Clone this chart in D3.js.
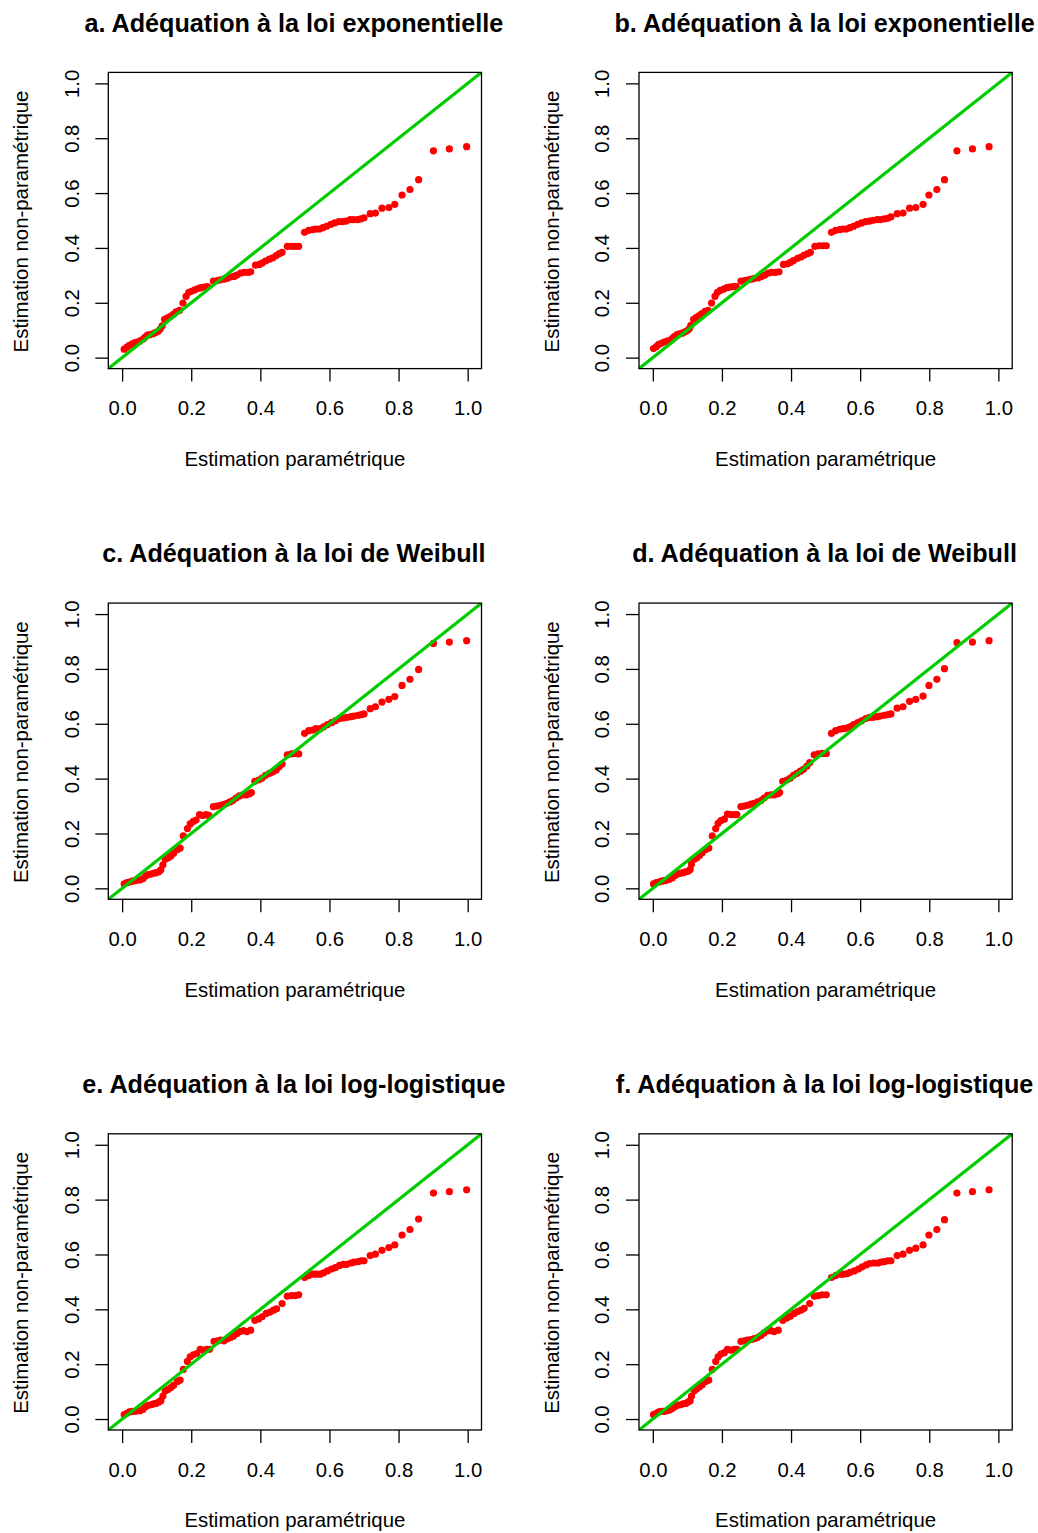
<!DOCTYPE html>
<html><head><meta charset="utf-8">
<script src="https://cdn.jsdelivr.net/npm/d3@7"></script>
<style>
body{margin:0;background:#fff}
svg{display:block}
text{font-family:"Liberation Sans",Arial,Helvetica,sans-serif;fill:#000}
</style>
</head><body>
<svg id="chart" width="1038" height="1533"></svg>
<script>
const titles = [
  "a. Adéquation à la loi exponentielle",
  "b. Adéquation à la loi exponentielle",
  "c. Adéquation à la loi de Weibull",
  "d. Adéquation à la loi de Weibull",
  "e. Adéquation à la loi log-logistique",
  "f. Adéquation à la loi log-logistique"
];
const xLabel = "Estimation paramétrique";
const yLabel = "Estimation non-paramétrique";
const tickValues = [0, 0.2, 0.4, 0.6, 0.8, 1.0];
const tickLabels = ["0.0", "0.2", "0.4", "0.6", "0.8", "1.0"];

const xa = [0.006,0.014,0.021,0.029,0.037,0.044,0.052,0.060,0.066,0.073,
0.081,0.089,0.096,0.104,0.110,0.116,0.123,0.131,0.139,0.147,
0.156,0.166,0.176,0.185,0.193,0.201,0.210,0.220,0.228,0.237,
0.247,0.264,0.276,0.285,0.295,0.305,0.314,0.324,0.332,0.343,
0.353,0.365,0.372,0.386,0.397,0.405,0.415,0.426,0.436,0.446,
0.455,0.463,0.478,0.490,0.501,0.511,0.528,0.540,0.552,0.561,
0.571,0.581,0.592,0.604,0.615,0.627,0.638,0.648,0.660,0.669,
0.681,0.691,0.700,0.718,0.733,0.752,0.772,0.789,0.810,0.833,
0.858,0.901,0.947,0.997];
const ya = [0.031,0.038,0.045,0.050,0.055,0.057,0.061,0.067,0.074,0.082,
0.084,0.087,0.091,0.096,0.104,0.116,0.140,0.145,0.150,0.157,
0.167,0.172,0.199,0.223,0.238,0.242,0.247,0.252,0.255,0.257,
0.259,0.279,0.281,0.284,0.286,0.289,0.294,0.296,0.301,0.308,
0.311,0.311,0.313,0.337,0.340,0.345,0.352,0.359,0.364,0.372,
0.379,0.384,0.406,0.406,0.406,0.406,0.457,0.464,0.467,0.469,
0.469,0.474,0.479,0.486,0.491,0.496,0.496,0.498,0.503,0.503,
0.503,0.506,0.510,0.525,0.527,0.545,0.547,0.559,0.593,0.613,
0.649,0.754,0.761,0.769];

const xb = [0.002,0.010,0.017,0.025,0.033,0.041,0.048,0.056,0.062,0.070,
0.077,0.085,0.093,0.100,0.106,0.110,0.118,0.126,0.133,0.141,
0.151,0.160,0.170,0.180,0.187,0.195,0.205,0.214,0.222,0.232,
0.241,0.255,0.266,0.276,0.286,0.295,0.305,0.315,0.324,0.334,
0.344,0.355,0.365,0.378,0.390,0.398,0.407,0.419,0.429,0.438,
0.448,0.456,0.469,0.481,0.492,0.502,0.517,0.529,0.541,0.550,
0.560,0.570,0.581,0.593,0.604,0.616,0.627,0.637,0.649,0.658,
0.670,0.680,0.689,0.707,0.724,0.743,0.761,0.782,0.799,0.822,
0.844,0.880,0.925,0.973];
const yb = [0.033,0.040,0.048,0.052,0.057,0.060,0.062,0.069,0.077,0.084,
0.087,0.089,0.094,0.099,0.106,0.118,0.140,0.147,0.152,0.160,
0.169,0.172,0.199,0.223,0.238,0.245,0.250,0.255,0.257,0.259,
0.259,0.279,0.281,0.284,0.286,0.289,0.291,0.296,0.301,0.308,
0.311,0.311,0.313,0.340,0.342,0.347,0.354,0.362,0.367,0.374,
0.379,0.384,0.406,0.408,0.408,0.408,0.457,0.464,0.467,0.469,
0.469,0.474,0.479,0.486,0.491,0.496,0.498,0.501,0.503,0.503,
0.506,0.508,0.513,0.525,0.527,0.545,0.547,0.559,0.593,0.613,
0.649,0.754,0.761,0.769];

const xc = [0.006,0.014,0.021,0.029,0.037,0.044,0.052,0.060,0.068,0.075,
0.083,0.091,0.098,0.106,0.112,0.118,0.125,0.133,0.141,0.149,
0.160,0.168,0.177,0.189,0.197,0.206,0.214,0.224,0.233,0.243,
0.251,0.264,0.274,0.284,0.293,0.303,0.312,0.320,0.330,0.339,
0.349,0.359,0.368,0.374,0.384,0.395,0.405,0.415,0.426,0.436,
0.446,0.455,0.463,0.478,0.490,0.501,0.511,0.528,0.540,0.552,
0.561,0.573,0.583,0.594,0.606,0.617,0.629,0.640,0.650,0.662,
0.671,0.683,0.692,0.700,0.718,0.733,0.752,0.772,0.789,0.810,
0.833,0.858,0.901,0.947,0.997];
const yc = [0.016,0.021,0.023,0.026,0.028,0.030,0.030,0.035,0.045,0.050,
0.052,0.055,0.057,0.060,0.067,0.086,0.106,0.111,0.118,0.128,
0.142,0.147,0.191,0.218,0.235,0.244,0.249,0.269,0.266,0.269,
0.266,0.298,0.300,0.303,0.305,0.310,0.315,0.320,0.329,0.337,
0.341,0.341,0.344,0.349,0.390,0.395,0.402,0.412,0.419,0.424,
0.431,0.444,0.453,0.487,0.490,0.492,0.490,0.565,0.575,0.577,
0.582,0.582,0.589,0.597,0.604,0.611,0.619,0.621,0.623,0.626,
0.628,0.631,0.633,0.636,0.655,0.662,0.679,0.689,0.699,0.740,
0.762,0.798,0.893,0.898,0.903];

const xd = [0.002,0.010,0.017,0.025,0.033,0.041,0.048,0.056,0.064,0.071,
0.079,0.087,0.095,0.102,0.108,0.112,0.120,0.127,0.135,0.143,
0.153,0.162,0.172,0.182,0.189,0.197,0.207,0.216,0.226,0.236,
0.243,0.255,0.265,0.274,0.284,0.293,0.303,0.313,0.322,0.332,
0.342,0.351,0.361,0.367,0.376,0.388,0.398,0.407,0.417,0.427,
0.436,0.446,0.454,0.467,0.479,0.490,0.502,0.517,0.529,0.541,
0.550,0.560,0.570,0.581,0.593,0.604,0.616,0.627,0.637,0.649,
0.658,0.670,0.680,0.689,0.707,0.724,0.743,0.761,0.782,0.799,
0.822,0.844,0.880,0.925,0.973];
const yd = [0.016,0.021,0.023,0.026,0.028,0.030,0.033,0.038,0.047,0.052,
0.055,0.057,0.060,0.062,0.069,0.089,0.106,0.111,0.120,0.130,
0.142,0.147,0.191,0.218,0.237,0.247,0.252,0.271,0.269,0.269,
0.269,0.298,0.300,0.303,0.307,0.310,0.315,0.320,0.329,0.339,
0.341,0.341,0.344,0.349,0.390,0.395,0.402,0.412,0.419,0.427,
0.434,0.446,0.458,0.487,0.490,0.492,0.492,0.565,0.575,0.580,
0.582,0.584,0.589,0.597,0.604,0.611,0.619,0.623,0.623,0.626,
0.628,0.631,0.633,0.636,0.657,0.662,0.682,0.689,0.701,0.740,
0.762,0.801,0.896,0.898,0.903];

const xe = [0.006,0.014,0.021,0.029,0.037,0.044,0.052,0.060,0.068,0.075,
0.083,0.091,0.098,0.106,0.112,0.118,0.125,0.133,0.141,0.149,
0.160,0.168,0.177,0.189,0.197,0.206,0.216,0.226,0.235,0.245,
0.253,0.266,0.276,0.285,0.295,0.305,0.314,0.322,0.332,0.341,
0.351,0.361,0.372,0.384,0.395,0.405,0.417,0.428,0.438,0.447,
0.463,0.478,0.490,0.501,0.511,0.528,0.540,0.552,0.561,0.573,
0.583,0.594,0.606,0.617,0.629,0.640,0.650,0.662,0.671,0.683,
0.692,0.700,0.718,0.733,0.752,0.772,0.789,0.810,0.833,0.858,
0.901,0.947,0.997];
const ye = [0.016,0.021,0.026,0.028,0.028,0.030,0.030,0.035,0.045,0.050,
0.052,0.055,0.057,0.062,0.067,0.084,0.103,0.108,0.115,0.123,
0.137,0.142,0.181,0.210,0.227,0.234,0.239,0.254,0.251,0.254,
0.254,0.283,0.285,0.288,0.285,0.293,0.297,0.302,0.312,0.319,
0.322,0.319,0.324,0.360,0.365,0.373,0.385,0.390,0.397,0.402,
0.421,0.448,0.450,0.450,0.453,0.516,0.523,0.528,0.528,0.528,
0.533,0.540,0.547,0.552,0.560,0.564,0.564,0.569,0.572,0.574,
0.577,0.577,0.596,0.601,0.615,0.625,0.635,0.671,0.691,0.729,
0.824,0.829,0.836];

const xf = [0.002,0.010,0.017,0.025,0.033,0.041,0.048,0.056,0.064,0.071,
0.079,0.087,0.095,0.102,0.108,0.112,0.120,0.127,0.135,0.143,
0.153,0.162,0.172,0.182,0.189,0.197,0.207,0.216,0.226,0.236,
0.243,0.255,0.265,0.274,0.284,0.293,0.303,0.313,0.322,0.332,
0.342,0.351,0.363,0.376,0.388,0.398,0.409,0.419,0.429,0.438,
0.454,0.467,0.479,0.490,0.502,0.517,0.529,0.541,0.550,0.562,
0.571,0.583,0.595,0.606,0.618,0.627,0.639,0.651,0.660,0.670,
0.680,0.689,0.707,0.724,0.743,0.761,0.782,0.799,0.822,0.844,
0.880,0.925,0.973];
const yf = [0.016,0.021,0.026,0.028,0.028,0.030,0.033,0.038,0.045,0.050,
0.052,0.055,0.057,0.062,0.067,0.084,0.103,0.110,0.118,0.125,
0.137,0.142,0.181,0.210,0.227,0.237,0.242,0.254,0.251,0.254,
0.254,0.283,0.285,0.288,0.290,0.293,0.297,0.305,0.314,0.322,
0.322,0.319,0.324,0.360,0.368,0.375,0.385,0.392,0.397,0.404,
0.421,0.448,0.450,0.453,0.453,0.516,0.523,0.528,0.528,0.530,
0.535,0.540,0.547,0.555,0.562,0.567,0.569,0.569,0.572,0.574,
0.577,0.577,0.596,0.601,0.615,0.623,0.635,0.671,0.691,0.727,
0.824,0.829,0.836];

const panelX = [xa, xb, xc, xd, xe, xf];
const panelY = [ya, yb, yc, yd, ye, yf];

const svg = d3.select("#chart");
const cell = 530.7;
const box = {l: 108.3, r: 481.5, t: 72.4, b: 368.6};
const lim = [-0.04, 1.04];

titles.forEach((title, i) => {
  const col = i % 2, row = Math.floor(i / 2);
  const g = svg.append("g").attr("transform", `translate(${col * cell},${row * cell})`);
  const x = d3.scaleLinear().domain(lim).range([box.l, box.r]);
  const y = d3.scaleLinear().domain(lim).range([box.b, box.t]);
  const cx = (box.l + box.r) / 2, cy = (box.t + box.b) / 2;

  const clipId = "clip" + i;
  g.append("clipPath").attr("id", clipId).append("rect")
    .attr("x", box.l).attr("y", box.t).attr("width", box.r - box.l).attr("height", box.b - box.t);

  const pts = panelX[i].map((v, k) => [v, panelY[i][k]]);
  g.append("g").attr("clip-path", `url(#${clipId})`).selectAll("circle").data(pts).join("circle")
    .attr("cx", d => x(d[0])).attr("cy", d => y(d[1])).attr("r", 3.6).attr("fill", "#ff0000");

  g.append("line").attr("clip-path", `url(#${clipId})`)
    .attr("x1", x(lim[0])).attr("y1", y(lim[0])).attr("x2", x(lim[1])).attr("y2", y(lim[1]))
    .attr("stroke", "#00cd00").attr("stroke-width", 3.2);

  g.append("rect").attr("x", box.l).attr("y", box.t).attr("width", box.r - box.l).attr("height", box.b - box.t)
    .attr("fill", "none").attr("stroke", "#000").attr("stroke-width", 1.3);

  const xAxis = d3.axisBottom(x).tickValues(tickValues).tickFormat((d, k) => tickLabels[k])
    .tickSize(13).tickSizeOuter(0).tickPadding(19.2);
  const gx = g.append("g").attr("transform", `translate(0,${box.b})`).call(xAxis);
  gx.select(".domain").remove();
  gx.selectAll(".tick line").attr("stroke", "#000").attr("stroke-width", 1.3);
  gx.selectAll(".tick text").attr("font-size", 20.3).attr("font-family", "Liberation Sans, Arial, sans-serif").attr("fill", "#000");

  const yAxis = d3.axisLeft(y).tickValues(tickValues).tickFormat((d, k) => tickLabels[k])
    .tickSize(13).tickSizeOuter(0);
  const gy = g.append("g").attr("transform", `translate(${box.l},0)`).call(yAxis);
  gy.select(".domain").remove();
  gy.selectAll(".tick line").attr("stroke", "#000").attr("stroke-width", 1.3);
  gy.selectAll(".tick text")
    .attr("font-size", 20.3).attr("font-family", "Liberation Sans, Arial, sans-serif").attr("fill", "#000")
    .attr("transform", "rotate(-90)").attr("x", 0).attr("y", -(box.l - 78.5)).attr("dy", 0)
    .attr("text-anchor", "middle");

  g.append("text").attr("x", cx - 1).attr("y", 31.7).attr("text-anchor", "middle")
    .attr("font-size", 25.2).attr("font-weight", "bold").text(title);

  g.append("text").attr("x", cx).attr("y", 466).attr("text-anchor", "middle")
    .attr("font-size", 20.4).text(xLabel);
  g.append("text").attr("transform", `translate(28,${cy + 1}) rotate(-90)`).attr("text-anchor", "middle")
    .attr("font-size", 20.4).text(yLabel);
});
</script>
</body></html>
